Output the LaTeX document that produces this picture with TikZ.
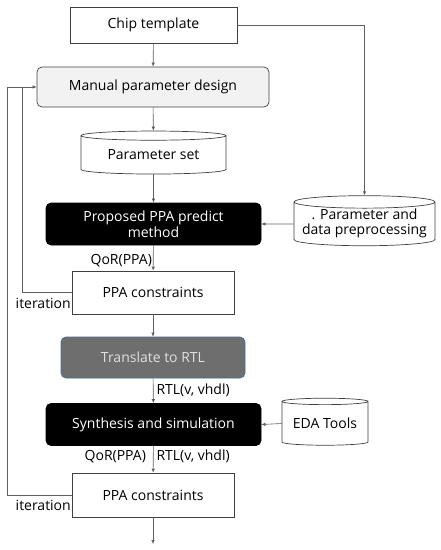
\documentclass[tikz,border=0pt]{standalone}
\usepackage{fontspec}
\setmainfont{Open Sans}
\usetikzlibrary{shapes.geometric,arrows.meta}
\definecolor{lgray}{HTML}{F2F2F2}
\definecolor{mgray}{HTML}{6E6E6E}
\definecolor{lnc}{HTML}{606060}
\definecolor{bluebd}{HTML}{4A6A9A}
\begin{document}
\begin{tikzpicture}[x=1pt,y=-1pt,
  font=\fontsize{14}{15.5}\selectfont,
  box/.style={draw=black!75,line width=0.7pt,fill=white,minimum width=164pt,minimum height=41pt,inner sep=0pt},
  rbox/.style={draw=black!75,line width=0.7pt,rounded corners=5pt,fill=lgray,minimum width=232pt,minimum height=40pt,inner sep=0pt},
  bbox/.style={draw=black,line width=0.7pt,rounded corners=5pt,fill=black,text=white,minimum width=215pt,minimum height=42pt,inner sep=0pt,align=center},
  gbox/.style={draw=bluebd,line width=0.7pt,rounded corners=5pt,fill=mgray,text=black!12,minimum width=184pt,minimum height=41pt,inner sep=0pt},
  cyl/.style={cylinder,shape border rotate=90,aspect=0.1,draw=black!75,line width=0.7pt,fill=white,inner sep=0pt,align=center},
  conn/.style={draw=lnc,line width=0.6pt,-{Latex[length=4pt,width=3.5pt]}},
  line/.style={draw=lnc,line width=0.6pt},
  lbl/.style={inner sep=1pt}
]
\useasboundingbox (0,0) rectangle (440,550);
\node[box,minimum width=167pt,minimum height=36pt] (chip) at (153.5,25) {Chip template};
\node[rbox] (manual) at (153,87) {Manual parameter design};
\node[cyl,minimum width=145pt,minimum height=43pt] (pset) at (153.5,155) {\raisebox{-3pt}{Parameter set}};
\node[bbox] (ppa) at (153.5,224) {Proposed PPA predict\\method};
\node[cyl,minimum width=141pt,minimum height=47pt] (prep) at (364.5,224) {\raisebox{-3pt}{\begin{tabular}{@{}c@{}}. Parameter and\\data preprocessing\end{tabular}}};
\node[box,minimum width=162pt,minimum height=43pt] (c1) at (153,292.5) {PPA constraints};
\node[gbox] (rtl) at (153,357.5) {Translate to RTL};
\node[bbox] (syn) at (153.5,424.5) {Synthesis and simulation};
\node[cyl,minimum width=86pt,minimum height=47pt] (eda) at (325,423.5) {\raisebox{-3pt}{EDA Tools}};
\node[box,minimum width=162pt,minimum height=44pt] (c2) at (153,495) {PPA constraints};
\coordinate (endp) at (153,544);
\coordinate (fbin) at (22,87);
\coordinate (fbout) at (7,87);

\draw[conn] (chip) -- (manual);
\draw[conn] (manual) -- (pset);
\draw[conn] (pset) -- (ppa);
\draw[conn] (chip.east) -| (prep.north);
\draw[conn] (prep.west) -- (ppa.east);
\draw[conn] (ppa) -- node[lbl,left,pos=0.6] {QoR(PPA)} (c1);
\draw[conn] (c1) -- (rtl);
\draw[conn] (rtl) -- node[lbl,right,pos=0.5,xshift=2pt] {RTL(v, vhdl)} (syn);
\draw[conn] (eda.west) -- (syn.east);
\draw[conn] (syn) -- node[lbl,left,pos=0.4,xshift=-6pt] {QoR(PPA)} node[lbl,right,pos=0.4,xshift=2pt] {RTL(v, vhdl)} (c2);
\draw[conn] (c2) -- (endp);
\draw[line] (c1.west) -| (fbin);
\draw[line] (c2.west) -| (fbout);
\draw[conn] (fbout) -- (manual.west);
\node[lbl,anchor=east] (it1) at (72,303.5) {iteration};
\node[lbl,anchor=east] (it2) at (72,505.5) {iteration};
\end{tikzpicture}
\end{document}
